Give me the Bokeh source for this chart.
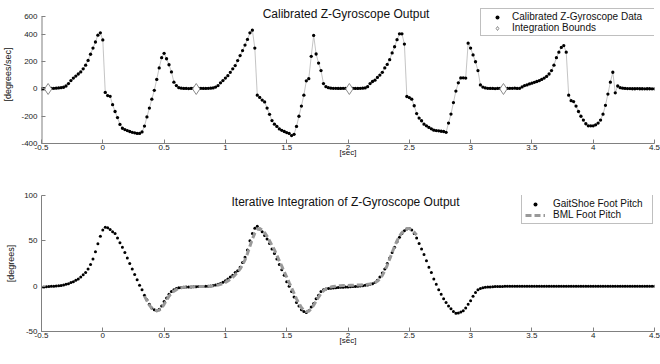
import numpy as np
from bokeh.plotting import figure
from bokeh.layouts import column
from bokeh.models import (Range1d, FixedTicker, CustomJSTickFormatter, Label,
                          Legend, LegendItem)
from bokeh.embed import file_html
from bokeh.resources import INLINE

# ---------------- data ----------------
t_start = -0.5
t_step = 0.02

gyro_z = [
    0, 2, 3, 4, 4, 5, 6, 8, 10, 13,
    22, 40, 62, 80, 95, 110, 125, 148, 175, 210,
    255, 300, 345, 395, 412, 360, -25, -48, -54, -115,
    -165, -210, -260, -288, -298, -305, -312, -318, -322, -326,
    -326, -315, -272, -205, -140, -75, -10, 70, 155, 230,
    262, 222, 178, 125, 50, 25, 10, 6, 4, 4,
    3, 4, 4, 3, 4, 5, 4, 4, 5, 6,
    8, 14, 25, 45, 62, 80, 98, 122, 148, 172,
    209, 245, 282, 322, 364, 412, 432, 300, -45, -62,
    -81, -95, -140, -186, -232, -258, -275, -293, -303, -312,
    -320, -326, -342, -333, -275, -200, -125, -45, 60, 76,
    240, 393, 257, 190, 135, 40, 17, 10, 6, 5,
    5, 4, 4, 5, 4, 3, 4, 5, 4, 4,
    5, 6, 8, 17, 40, 55, 65, 85, 102, 122,
    155, 180, 215, 265, 310, 362, 405, 405, 330, -55,
    -63, -75, -123, -180, -213, -233, -258, -270, -282, -292,
    -302, -305, -307, -310, -312, -318, -250, -184, -100, -15,
    45, 81, 82, 80, 336, 300, 250, 200, 135, 30,
    14, 8, 5, 4, 4, 3, 4, 5, 4, 3,
    4, 5, 5, 6, 4, 5, 15, 25, 30, 37,
    43, 49, 55, 61, 70, 80, 92, 110, 135, 175,
    230, 270, 305, 319, 270, -45, -86, -92, -125, -165,
    -200, -228, -255, -270, -270, -270, -263, -250, -228, -185,
    -120, -37, 50, 123, -28, 22, 10, 6, 4, 3,
    3, 2, 2, 3, 2, 2, 1, 2, 2, 1,
    1,
]

pitch_gaitshoe = [
    -1, -0.8, -0.6, -0.4, -0.2, 0, 0.2, 0.5, 0.8, 1.2,
    2, 2.6, 4, 5, 6.5, 8, 10, 12.5, 15, 19,
    24, 30, 38, 46.7, 55, 62, 65, 64.5, 62.5, 60,
    58, 53, 48, 43, 37, 31, 25, 19, 13, 7,
    1, -4, -10, -15, -20, -24, -26, -27, -25.5, -22,
    -17, -13, -9, -6, -4, -2.5, -1.8, -1.4, -1.2, -1,
    -0.9, -0.8, -0.7, -0.6, -0.5, -0.4, -0.3, -0.2, 0, 0.2,
    0.7, 1.2, 2, 3, 4.4, 6, 8, 10, 12, 15,
    17, 21, 26, 32, 40, 50, 58, 64, 66, 63,
    60, 56, 52, 47, 41, 36, 30, 24, 18, 12,
    5, 0, -6, -12, -18, -22, -26, -28, -29, -27,
    -23, -19, -14, -10, -6, -4, -3, -2.6, -2.2, -2,
    -1.8, -1.5, -1.3, -1.1, -1, -0.9, -0.7, -0.5, -0.3, -0.1,
    0.2, 0.5, 0.9, 1.4, 2, 2.8, 4, 6.5, 10, 14.5,
    19, 25, 31, 37, 43, 49, 54, 58, 61, 63,
    63.5, 62, 58, 53, 47, 41, 35, 28, 21, 15,
    8, 2, -4, -9, -14, -18, -22, -25, -28, -30,
    -29.5, -28.5, -27, -24, -20, -16, -11, -7, -4, -2.5,
    -1.8, -1.3, -1, -0.8, -0.6, -0.5, -0.4, -0.3, -0.3, -0.2,
    -0.2, -0.2, -0.1, -0.1, -0.1, -0.1, 0, 0, 0, 0,
    0, 0, 0, 0, 0, 0, 0, 0, 0, 0,
    0, 0, 0, 0, 0, 0, 0, 0, 0, 0,
    0, 0, 0, 0, 0, 0, 0, 0, 0, 0,
    0, 0, 0, 0, 0, 0, 0, 0, 0, 0,
    0, 0, 0, 0, 0, 0, 0, 0, 0, 0,
    0,
]

bml_t_start = 0.34
pitch_bml = [
    -11, -16, -21, -24.5, -26.5, -27, -26.5, -24,
    -20, -15.5, -11, -8, -5.5, -3.8, -2.6, -1.8, -1.3, -1,
    -0.9, -0.8, -0.7, -0.6, -0.5, -0.4, -0.3, -0.2, -0.1, 0,
    0.3, 0.7, 1.2, 2, 3, 4.2, 5.8, 7.6, 9.8, 12.5,
    15.5, 19, 23.5, 29, 36, 44, 52, 58.5, 62.5, 63.5,
    62, 59, 55, 50, 45, 40, 34, 28, 22, 16,
    10, 4, -2, -8, -14, -19, -23.5, -26.5, -28, -27.5,
    -25, -21, -16.5, -12, -8, -5, -3, -1.8, -1, -0.4,
    0, 0.3, 0.5, 0.6, 0.7, 0.8, 0.9, 1.0, 1.1, 1.2,
    1.3, 1.5, 1.7, 2, 2.4, 3, 4, 5.5, 8, 12,
    17, 23, 30, 37, 44, 50, 55, 59, 62, 63.5,
    63.5, 62, 59.5, 56.5,
]

bounds_t = [-0.446, 0.762, 2.011, 3.268]
bounds_v = [0, 0, 0, 0]

x_ticks = [-0.5, 0, 0.5, 1, 1.5, 2, 2.5, 3, 3.5, 4, 4.5]
x_tick_labels = ["-0.5", "0", "0.5", "1", "1.5", "2", "2.5", "3", "3.5", "4", "4.5"]
gyro_ticks = [-400, -200, 0, 200, 400, 532]
gyro_tick_labels = ["-400", "-200", "0", "200", "400", "600"]
pitch_ticks = [-50, 0, 50, 100]
pitch_tick_labels = ["-50", "0", "50", "100"]

t_gyro = t_start + t_step * np.arange(len(gyro_z))
t_pitch = t_start + t_step * np.arange(len(pitch_gaitshoe))
t_bml = bml_t_start + t_step * np.arange(len(pitch_bml))

FONT = "Liberation Sans"
AXIS_GRAY = "#808080"


def fmt(ticks, labels):
    return CustomJSTickFormatter(
        args=dict(tv=ticks, labels=labels),
        code="""
        for (let i = 0; i < tv.length; i++) {
            if (Math.abs(tv[i] - tick) < 1e-6) { return labels[i]; }
        }
        return String(tick);
        """)


def style(p, yticks, ylabels, ylabel):
    p.grid.visible = False
    p.outline_line_color = None
    p.background_fill_color = "white"
    p.border_fill_color = "white"
    p.xaxis.ticker = FixedTicker(ticks=x_ticks)
    p.xaxis.formatter = fmt(x_ticks, x_tick_labels)
    p.yaxis.ticker = FixedTicker(ticks=yticks)
    p.yaxis.formatter = fmt(yticks, ylabels)
    for ax in (p.xaxis[0], p.yaxis[0]):
        ax.axis_line_color = AXIS_GRAY
        ax.axis_line_width = 1
        ax.major_tick_line_color = AXIS_GRAY
        ax.major_tick_in = 4
        ax.major_tick_out = 0
        ax.minor_tick_line_color = None
        ax.major_label_text_font = FONT
        ax.major_label_text_font_size = "8px"
        ax.major_label_text_color = "#222222"
        ax.axis_label_text_font = FONT
        ax.axis_label_text_font_style = "normal"
        ax.axis_label_text_color = "#111111"
    p.xaxis.major_label_standoff = 1
    p.yaxis.major_label_standoff = 4
    p.xaxis.axis_label = "[sec]"
    p.xaxis.axis_label_text_font_size = "8px"
    p.xaxis.axis_label_standoff = -5
    p.yaxis.axis_label = ylabel
    p.yaxis.axis_label_text_font_size = "9px"
    p.yaxis.axis_label_standoff = 5


def add_title(p, x, y, text):
    p.add_layout(Label(x=x, y=y, text=text, text_font=FONT,
                       text_font_size="12px", text_color="#111111",
                       text_align="center", text_baseline="middle"))


# ---------------- top: gyroscope ----------------
p1 = figure(width=660, height=182, x_range=Range1d(-0.5, 4.5),
            y_range=Range1d(-400, 612.8), output_backend="svg",
            toolbar_location=None, title=None,
            min_border_left=40, min_border_right=6,
            min_border_top=5, min_border_bottom=39)
style(p1, gyro_ticks, gyro_tick_labels, "[degrees/sec]")
# the axis line of the reference stops at its top tick
p1.yaxis.axis_line_color = None
p1.segment(x0=[-0.5], y0=[-400], x1=[-0.5], y1=[gyro_ticks[-1]],
           line_color=AXIS_GRAY, line_width=2)

p1.line(t_gyro, gyro_z, line_color="#b5b5b5", line_width=0.8)
r_dots = p1.scatter(t_gyro, gyro_z, marker="circle", size=3.3,
                    fill_color="black", line_color=None)
r_bounds = p1.scatter(bounds_t, bounds_v, marker="diamond", size=11,
                      fill_color="white", line_color="#8a8a8a", line_width=1)

add_title(p1, 1.984, 552, "Calibrated Z-Gyroscope Output")

leg1 = Legend(items=[LegendItem(label="Calibrated Z-Gyroscope Data", renderers=[r_dots]),
                     LegendItem(label="Integration Bounds", renderers=[r_bounds])],
              location=(439, 107), margin=0, padding=2, spacing=0,
              glyph_height=10, label_height=10, glyph_width=28,
              label_standoff=1, label_width=140,
              label_text_font=FONT, label_text_font_size="10px",
              label_text_color="#111111",
              border_line_color=AXIS_GRAY, border_line_width=1,
              background_fill_color="white", background_fill_alpha=1.0)
p1.add_layout(leg1)

# ---------------- bottom: pitch ----------------
p2 = figure(width=660, height=182, x_range=Range1d(-0.5, 4.5),
            y_range=Range1d(-50, 100), output_backend="svg",
            toolbar_location=None, title=None,
            min_border_left=40, min_border_right=6,
            min_border_top=13, min_border_bottom=33)
style(p2, pitch_ticks, pitch_tick_labels, "[degrees]")

r_gs = p2.scatter(t_pitch, pitch_gaitshoe, marker="circle", size=3.0,
                  fill_color="black", line_color=None)
r_bml = p2.line(t_bml, pitch_bml, line_color="#999999", line_width=3,
                line_dash="6 3")

add_title(p2, 1.98, 92.3, "Iterative Integration of Z-Gyroscope Output")

leg2 = Legend(items=[LegendItem(label="GaitShoe Foot Pitch", renderers=[r_gs]),
                     LegendItem(label="BML Foot Pitch", renderers=[r_bml])],
              location=(480, 107), margin=0, padding=3, spacing=0,
              glyph_height=10, label_height=10, glyph_width=20,
              label_standoff=8, label_width=96,
              label_text_font=FONT, label_text_font_size="10px",
              label_text_color="#111111",
              border_line_color=AXIS_GRAY, border_line_width=1,
              background_fill_color="white", background_fill_alpha=1.0)
p2.add_layout(leg2)

layout = column(p1, p2)
open("out.html", "w").write(file_html(layout, INLINE))
